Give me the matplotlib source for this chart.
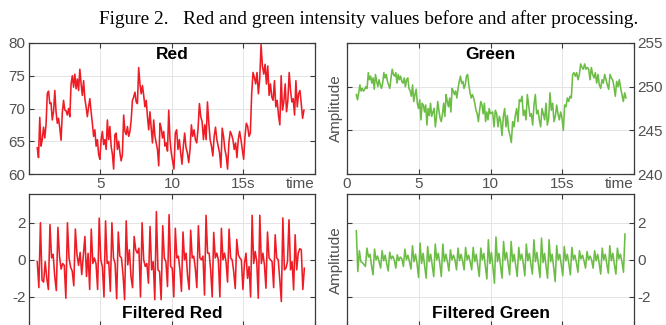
import numpy as np
import matplotlib
matplotlib.use("Agg")
from matplotlib import pyplot as plt

plt.rcParams['axes.unicode_minus'] = False
plt.rcParams['font.family'] = ['Liberation Sans', 'DejaVu Sans']

# raw red intensity in two stretches (seconds)
red_span = [(0.58, 9.95), (10.14, 19.23)]
red_a = [64.0, 62.5, 68.65, 64.25, 65.25, 67.15, 65.5, 67.5, 72.25, 72.65,
         70.75, 70.85, 68.25, 69.5, 72.75, 69.5, 67.75, 68.5, 67.0, 65.15,
         69.35, 71.25, 69.75, 69.65, 69.0, 70.0, 68.75, 73.75, 75.0, 73.25,
         75.25, 73.0, 74.5, 72.75, 76.0, 73.75, 72.0, 74.25, 71.5, 70.25,
         68.75, 70.25, 71.5, 69.5, 67.75, 65.75, 66.75, 64.25, 65.25, 63.0,
         62.25, 65.25, 66.5, 64.5, 65.25, 63.75, 68.25, 65.25, 67.25, 64.25,
         63.0, 60.75, 66.0, 66.25, 63.75, 65.0, 63.25, 62.0, 63.0, 69.0,
         66.5, 66.0, 67.25, 65.75, 66.5, 68.25, 71.25, 71.75, 72.5, 71.0,
         70.75, 76.25, 73.75, 72.25, 73.5, 72.0, 70.25, 71.25, 68.75, 66.75,
         69.5, 67.0, 64.75, 68.25, 65.75, 64.75, 63.75, 61.25, 67.75, 67.0,
         65.5, 66.5, 64.25, 64.75, 63.5, 69.75, 65.25, 63.25]
red_b = [60.75, 66.25, 66.75, 63.75, 65.25, 63.25, 61.5, 64.25, 66.25, 64.0,
         63.25, 61.75, 63.75, 67.5, 65.75, 66.75, 65.25, 64.75, 67.0, 70.75,
         68.75, 68.0, 65.25, 67.5, 65.25, 71.0, 67.75, 65.25, 64.25, 62.75,
         65.75, 67.15, 65.25, 64.25, 63.25, 61.0, 67.0, 65.75, 63.75, 62.75,
         60.75, 64.75, 66.5, 66.0, 65.25, 63.75, 64.75, 62.5, 65.25, 66.5,
         65.25, 63.75, 62.25, 65.75, 67.75, 67.25, 65.75, 66.25, 72.25, 75.5,
         74.75, 73.75, 75.5, 72.25, 74.5, 79.75, 76.5, 75.25, 76.75, 73.75,
         76.5, 72.0, 73.75, 71.75, 71.25, 74.25, 70.25, 71.25, 69.0, 67.5,
         75.0, 69.75, 71.0, 73.75, 69.5, 71.25, 75.5, 72.75, 71.0, 71.5,
         69.0, 74.25, 70.25, 72.25, 72.75, 70.75, 68.5, 69.75]

# raw green intensity, top-right panel
green_span = [(0.65, 9.99), (10.15, 19.44)]
green_a = [249.1, 248.5, 249.3, 250.2, 249.5, 249.8, 249.5, 249.7, 250.0, 249.8,
           251.6, 250.8, 251.2, 250.4, 251.0, 249.7, 251.4, 250.6, 250.0, 250.8,
           250.2, 249.8, 250.4, 251.6, 251.0, 251.4, 250.6, 250.2, 249.8, 251.0,
           252.0, 251.4, 251.2, 251.6, 250.4, 251.4, 250.8, 251.2, 250.6, 250.4,
           251.0, 250.0, 250.8, 251.0, 249.8, 249.5, 248.9, 250.2, 248.3, 249.1,
           249.7, 248.1, 247.5, 248.5, 246.2, 248.1, 247.9, 247.1, 247.9, 245.6,
           247.5, 246.7, 248.1, 246.6, 247.1, 247.5, 245.4, 246.6, 248.3, 247.3,
           246.4, 246.0, 246.9, 248.1, 246.6, 249.1, 248.3, 247.7, 248.7, 247.1,
           249.8, 249.5, 249.1, 249.5, 248.7, 249.8, 250.6, 251.2, 250.4, 250.6,
           249.8, 250.2, 251.2, 251.4, 250.2, 249.3, 248.7, 249.1, 248.7, 248.1,
           247.3, 246.9, 246.0, 247.3, 248.3, 247.9, 246.9, 248.1, 246.0, 247.1,
           246.2, 247.5, 246.9]
green_b = [247.1, 245.4, 247.3, 246.9, 245.4, 246.6, 246.0, 244.4, 246.6, 247.5,
           245.4, 246.7, 245.0, 244.4, 243.6, 246.0, 245.4, 246.7, 247.5, 246.0,
           248.5, 248.3, 248.9, 246.7, 247.3, 246.2, 249.1, 247.9, 246.6, 246.9,
           245.6, 247.9, 249.1, 246.9, 247.3, 246.2, 245.4, 247.5, 246.9, 246.2,
           248.1, 245.6, 246.4, 249.3, 247.3, 248.1, 246.0, 246.6, 247.9, 246.9,
           246.2, 247.1, 246.4, 245.0, 247.9, 247.7, 248.7, 248.3, 248.9, 248.7,
           251.4, 251.6, 251.2, 251.6, 250.8, 251.4, 252.6, 252.2, 252.0, 252.6,
           252.0, 252.2, 252.0, 250.8, 252.2, 251.4, 251.0, 251.6, 250.4, 251.4,
           250.2, 249.8, 250.8, 250.4, 251.4, 250.8, 250.2, 249.7, 251.4, 251.0,
           250.8, 250.0, 248.9, 250.6, 250.0, 250.8, 249.8, 249.1, 248.3, 249.3,
           248.7]

# filtered red, bottom-left panel
fred_span = [(0.58, 9.91), (10.02, 19.26)]
fred_a = [-0.1, -1.5, 2.0, -1.1, -1.2, -0.1, -1.0, -1.6, 1.9, 0.1,
          0.3, -0.9, -1.66, 1.75, 0.2, -0.5, -0.2, -0.3, -2.07, 2.0,
          0.1, -0.4, -0.6, -1.4, 1.66, 0.3, -0.3, 0.4, -0.8, 0.2,
          1.26, -0.9, 0.35, -1.6, 1.66, -0.2, 0.1, -0.2, -1.6, 2.25,
          0.0, -0.36, -2.0, 2.1, -0.2, -0.1, -1.7, 2.0, 0.1, -0.2,
          -2.1, 1.5, 0.2, 0.1, -0.8, -2.15, 2.1, -0.27, 0.54, -0.9,
          -1.5, 1.26, 0.54, 0.36, 0.63, -2.0, 2.0, 0.0, -0.36, -0.2,
          -1.26, 1.8, -0.54, -0.1, -2.15, 2.6, -0.54, -0.63, -2.15, 1.84,
          0.1, -0.1, -1.44, 2.44, -0.36]
fred_b = [-0.45, -2.0, 1.7, 0.1, 0.2, -0.54, -1.7, 1.5, 0.0, 0.36,
          -0.9, -1.6, 1.6, 0.1, 0.2, -0.45, -1.5, 1.84, 0.1, 0.0,
          0.2, -1.9, 2.4, 0.36, 0.36, -0.54, -2.0, 1.48, 0.1, 0.36,
          0.0, -2.0, 1.7, 0.0, 0.36, -0.1, -1.2, 1.66, 0.1, 0.0,
          -0.63, -1.55, 1.1, 0.27, 0.1, 0.0, -1.6, -0.2, 0.36, -1.0,
          -0.36, -2.0, 2.4, -0.2, 0.45, -0.1, -2.07, 2.4, -0.2, 0.36,
          -0.27, -1.53, 1.5, 0.1, 0.0, -0.1, -1.5, 1.35, 0.1, 0.0,
          -1.08, -2.25, 2.26, -0.54, -0.45, -0.1, 2.16, -0.54, -0.1, -1.62,
          1.35, -0.54, 0.36, 0.6, 0.54, -1.6, -0.45]

# filtered green, bottom-right panel
fgreen_span = [(0.65, 19.37)]
fgreen = [1.57, -0.63,
          0.49, -0.10, -0.15, -0.25, -0.36,
          0.63, 0.15, 0.30, -0.30, -0.81,
          0.58, 0.00, 0.20, -0.10, -0.45,
          0.49, -0.05, 0.25, -0.20, -0.60,
          0.41, 0.05, 0.20, 0.00, -0.45,
          0.27, -0.05, 0.15, 0.05, -0.36,
          0.58, 0.00, 0.25, -0.10, -0.50,
          0.76, -0.10, 0.30, -0.20, -0.95,
          0.90, -0.20, 0.35, -0.30, -0.99,
          0.72, -0.10, 0.30, -0.30, -0.90,
          0.85, 0.00, 0.35, -0.20, -0.90,
          0.85, -0.10, 0.30, -0.10, -0.60,
          0.54, 0.00, 0.25, 0.00, -0.54,
          0.63, -0.05, 0.30, -0.05, -0.54,
          0.67, 0.00, 0.25, -0.10, -0.54,
          0.67, -0.10, 0.30, -0.30, -0.90,
          0.63, 0.00, 0.35, -0.35, -1.03,
          1.08, -0.20, 0.40, -0.40, -1.26,
          1.23, -0.10, 0.35, -0.30, -0.99,
          0.99, 0.00, 0.40, -0.20, -0.81,
          0.99, -0.10, 0.30, -0.30, -0.90,
          0.67, 0.00, 0.30, -0.20, -0.86,
          0.85, -0.05, 0.35, -0.25, -0.77,
          1.08, -0.10, 0.40, -0.30, -0.95,
          1.17, -0.15, 0.35, -0.35, -0.99,
          1.08, -0.10, 0.30, -0.40, -1.17,
          0.77, 0.00, 0.30, -0.25, -0.86,
          0.72, -0.05, 0.30, -0.20, -0.81,
          0.67, 0.00, 0.25, -0.15, -0.67,
          0.49, 0.05, 0.25, -0.05, -0.45,
          0.45, 0.00, 0.20, 0.00, -0.45,
          0.49, -0.05, 0.30, -0.20, -0.77,
          0.63, 0.00, 0.30, -0.20, -0.72,
          0.76, -0.05, 0.35, -0.25, -0.77,
          0.63, 0.05, 0.30, -0.10, -0.67,
          1.39]

xticks = [0, 5, 10, 15, 20]
xlabels_left = ['', '5', '10', '15s', 'time']
xlabels_right = ['0', '5', '10', '15s', 'time']

RED = '#ee1c25'
GREEN = '#6cbd45'
SPINE = '#3a3a3a'
LABEL = '#505050'


def sample_times(spans, chunks):
    # the samples in each stretch are evenly spaced between its end points
    return np.concatenate([np.linspace(a, b, len(c)) for (a, b), c in zip(spans, chunks)])


def style(ax, ylim, yticks, labels_right=False):
    ax.set_xlim(0, 20)
    ax.set_ylim(*ylim)
    ax.set_xticks(xticks)
    ax.set_yticks(yticks)
    ax.grid(True, color='#e4e4e4', lw=0.7)
    ax.set_axisbelow(True)
    ax.tick_params(direction='in', top=True, right=True, length=3.5,
                   width=0.8, color=SPINE, labelcolor=LABEL, labelsize=11,
                   pad=2.5)
    if labels_right:
        ax.tick_params(axis='y', labelleft=False, labelright=True)
    for s in ax.spines.values():
        s.set_color(SPINE)
        s.set_linewidth(0.9)


fig = plt.figure(figsize=(6.66, 3.25), dpi=100)

ax1 = fig.add_axes([0.0435, 0.4646, 0.4294, 0.4031])
ax2 = fig.add_axes([0.5210, 0.4646, 0.4310, 0.4031])
ax3 = fig.add_axes([0.0435, -0.002, 0.4294, 0.4051])
ax4 = fig.add_axes([0.5210, -0.002, 0.4310, 0.4051])

ax1.plot(sample_times(red_span, [red_a, red_b]), red_a + red_b, color=RED, lw=1.15)
style(ax1, (60, 80), [60, 65, 70, 75, 80])
ax1.set_xticklabels(xlabels_left)

ax2.plot(sample_times(green_span, [green_a, green_b]), green_a + green_b, color=GREEN, lw=1.15)
style(ax2, (240, 255), [240, 245, 250, 255], labels_right=True)
ax2.set_xticklabels(xlabels_right)
ax2.set_ylabel('Amplitude', color=LABEL, fontsize=11, labelpad=3)

ax3.plot(sample_times(fred_span, [fred_a, fred_b]), fred_a + fred_b, color=RED, lw=1.15)
style(ax3, (-3.55, 3.55), [-2, 0, 2])
ax3.tick_params(axis='x', labelbottom=False)

ax4.plot(sample_times(fgreen_span, [fgreen]), fgreen, color=GREEN, lw=1.15)
style(ax4, (-3.55, 3.55), [-2, 0, 2], labels_right=True)
ax4.tick_params(axis='x', labelbottom=False)
ax4.set_ylabel('Amplitude', color=LABEL, fontsize=11, labelpad=3)

for ax in (ax1, ax2):
    ax.get_xticklabels()[-1].set_horizontalalignment('right')

for ax, name, ypos in ((ax1, 'Red', 0.915), (ax2, 'Green', 0.915),
                       (ax3, 'Filtered Red', 0.09), (ax4, 'Filtered Green', 0.09)):
    ax.text(0.5, ypos, name, transform=ax.transAxes, ha='center', va='center',
            fontsize=12.5, fontweight='bold', color='black')

fig.text(0.554, 0.942,
         'Figure 2.   Red and green intensity values before and after processing.',
         ha='center', va='center', fontsize=13.9, family='Liberation Serif')

fig.savefig('out.png', dpi=100)
